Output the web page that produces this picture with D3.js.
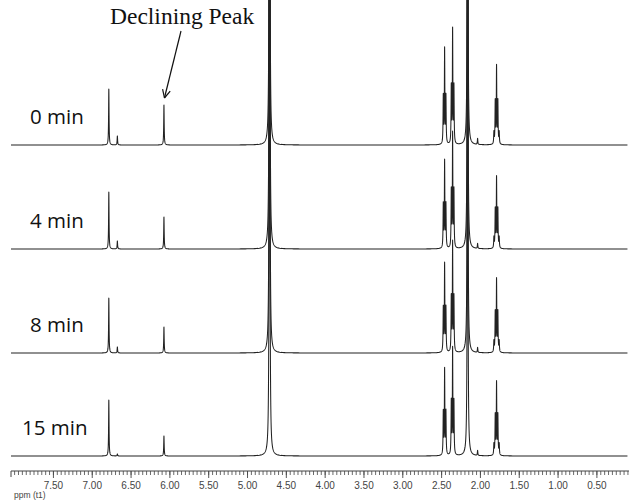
<!DOCTYPE html>
<html>
<head>
<meta charset="utf-8">
<script src="https://cdn.jsdelivr.net/npm/d3@7"></script>
<style>
  html, body { margin: 0; padding: 0; background: #fff; }
  svg { display: block; }
</style>
</head>
<body>
<svg id="chart" width="629" height="500"></svg>
<script>
// ---- data ----
const spectrumLabels = ["0 min", "4 min", "8 min", "15 min"];
// chemical shifts (ppm) of the peaks
const peakPpm = [6.78, 6.67, 6.07, 4.71, 2.455, 2.352, 2.159, 2.03, 1.786];
// multiplicity of each peak
const peakMult = [1, 1, 1, 1, 3, 3, 1, 1, 5];
// intensities (a.u.) per spectrum; water (4.71) and 2.16 singlet are off-scale
const int0 = [56, 9, 40, 1500, 94, 113, 800, 6, 77];
const int4 = [57, 8, 32, 1500, 86, 113, 800, 5, 70];
const int8 = [55, 6, 26, 1500, 87, 108, 800, 5, 72];
const int15 = [56, 2, 20, 1500, 85, 105, 800, 5, 72];
const tickLabels = ["7.50", "7.00", "6.50", "6.00", "5.50", "5.00", "4.50", "4.00", "3.50", "3.00", "2.50", "2.00", "1.50", "1.00", "0.50"];
const annotation = "Declining Peak";
const axisTitle = "ppm (t1)";

// ---- layout ----
const svg = d3.select("#chart");
const x = d3.scaleLinear().domain([8.04, 0.08]).range([11, 629]);
const yInt = d3.scaleLinear().domain([0, 100]).range([0, 100]);
const baselines = [145, 249, 353, 456];
const series = [int0, int4, int8, int15];

const multWeights = { 1: [1], 3: [0.5, 1, 0.5], 5: [0.15, 0.55, 1, 0.55, 0.15] };
const J = 0.017;

function linesFor(ints) {
  const out = [];
  peakPpm.forEach((p, i) => {
    const w = multWeights[peakMult[i]];
    const n = w.length;
    w.forEach((wk, k) => {
      out.push({ c: p + (k - (n - 1) / 2) * J, h: ints[i] * wk, g: i === 3 ? 0.003 : 0.0035 });
    });
  });
  return out;
}

// sample positions
let samples = d3.range(8.04, 0.08, -0.02);
const allCenters = [];
peakPpm.forEach((p, i) => {
  const n = multWeights[peakMult[i]].length;
  for (let k = 0; k < n; k++) allCenters.push(p + (k - (n - 1) / 2) * J);
});
allCenters.forEach(c => {
  d3.range(-0.1, 0.1001, 0.002).forEach(o => samples.push(c + o));
  d3.range(-0.01, 0.01001, 0.0003).forEach(o => samples.push(c + o));
  samples.push(c);
});
samples = Array.from(new Set(samples.map(v => +v.toFixed(5)))).filter(v => v <= 8.04 && v >= 0.08).sort((a, b) => b - a);

const line = d3.line().x(d => x(d[0])).y(d => d[1]);

series.forEach((ints, si) => {
  const ls = linesFor(ints);
  const pts = samples.map(p => {
    let s = 0;
    for (const l of ls) { const d = p - l.c; s += l.h * l.g * l.g / (d * d + l.g * l.g); }
    return [p, baselines[si] - yInt(s)];
  });
  svg.append("path")
    .attr("d", line(pts))
    .attr("fill", "none")
    .attr("stroke", "#222")
    .attr("stroke-width", 1.05)
    .attr("stroke-linejoin", "round");
});

// time labels
const labelX = [30, 30, 30, 22];
spectrumLabels.forEach((t, i) => {
  svg.append("text")
    .attr("x", labelX[i])
    .attr("y", baselines[i] - 21)
    .attr("font-family", "'Open Sans', sans-serif")
    .attr("font-size", 20.5)
    .attr("fill", "#111")
    .text(t);
});

// annotation
svg.append("text")
  .attr("x", 110).attr("y", 24)
  .attr("font-family", "'Liberation Serif', 'Times New Roman', serif")
  .attr("font-size", 23.5)
  .attr("fill", "#111")
  .text(annotation);
const tip = [x(6.07) + 0.5, 98];
const tail = [181, 31];
svg.append("line").attr("x1", tail[0]).attr("y1", tail[1]).attr("x2", tip[0]).attr("y2", tip[1])
  .attr("stroke", "#111").attr("stroke-width", 1.2);
const ang = Math.atan2(tip[1] - tail[1], tip[0] - tail[0]);
[-1, 1].forEach(sg => {
  const a = ang + Math.PI + sg * 0.45;
  svg.append("line").attr("x1", tip[0]).attr("y1", tip[1])
    .attr("x2", tip[0] + 9 * Math.cos(a)).attr("y2", tip[1] + 9 * Math.sin(a))
    .attr("stroke", "#111").attr("stroke-width", 1.2);
});

// axis
const axisY = 471;
const axisG = svg.append("g").attr("transform", `translate(0,${axisY})`);
const minorTicks = d3.range(160, 0, -1).map(v => v * 0.05).filter(v => v <= 8.04 && v >= 0.08);
const majorTicks = tickLabels.map(Number);
axisG.append("g").call(d3.axisBottom(x).tickValues(minorTicks).tickSize(4).tickFormat(""))
  .call(g => g.select(".domain").remove())
  .selectAll("line").attr("stroke", "#444").attr("stroke-width", 0.8);
axisG.append("g").call(d3.axisBottom(x).tickValues(majorTicks).tickSize(7).tickPadding(4)
    .tickFormat((d, i) => tickLabels[i]))
  .call(g => g.select(".domain").remove())
  .call(g => g.selectAll("line").attr("stroke", "#444").attr("stroke-width", 0.9))
  .call(g => g.selectAll("text").attr("font-family", "'Liberation Sans', Arial, sans-serif")
    .attr("font-size", 10).attr("fill", "#444"));
svg.append("path")
  .attr("d", `M${x(8.04)},${axisY + 6}V${axisY}H629`)
  .attr("fill", "none").attr("stroke", "#444").attr("stroke-width", 1);
svg.append("text")
  .attr("x", 14).attr("y", 498)
  .attr("font-family", "'Liberation Sans', Arial, sans-serif")
  .attr("font-size", 8.5).attr("fill", "#444")
  .text(axisTitle);
</script>
</body>
</html>
